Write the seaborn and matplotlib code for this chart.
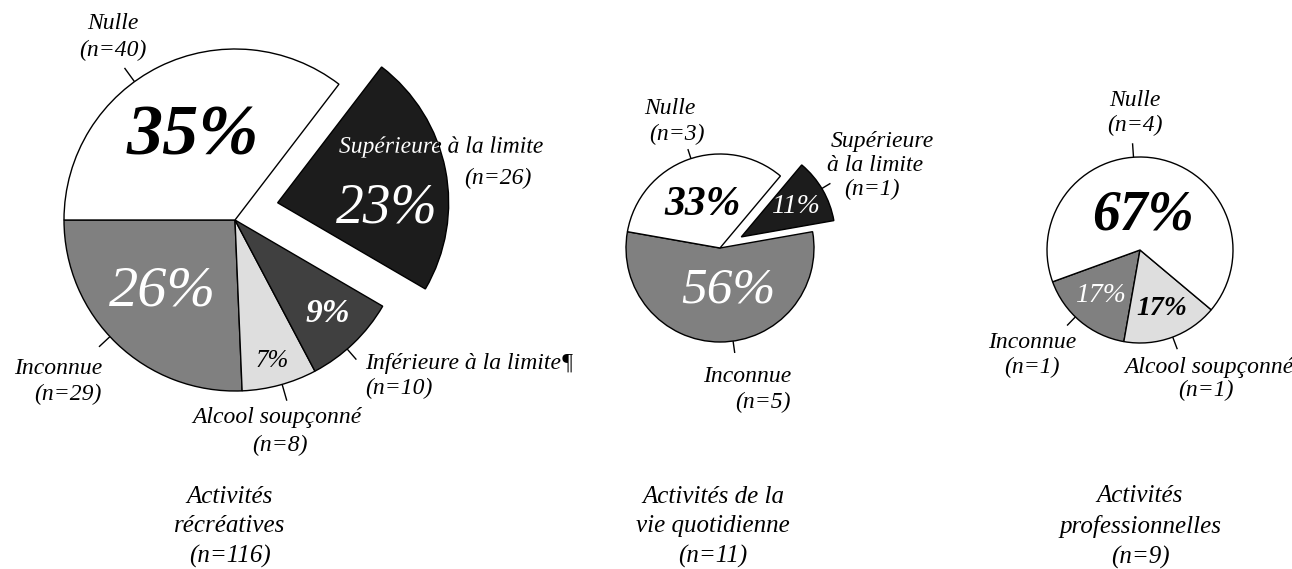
import math
import matplotlib
matplotlib.use("Agg")
import matplotlib.pyplot as plt
import matplotlib.transforms as mtransforms
from matplotlib.textpath import TextPath
from matplotlib.patches import PathPatch
from matplotlib.font_manager import FontProperties
import seaborn as sns

W, H = 1292, 569

# ---------------- data ----------------
p1_labels = ["Inconnue", "Alcool soupçonné", "Inférieure à la limite¶", "Supérieure à la limite", "Nulle"]
p1_counts = [29, 8, 10, 26, 40]
p1_pcts = [26, 7, 9, 23, 35]

p2_labels = ["Inconnue", "Supérieure à la limite", "Nulle"]
p2_counts = [5, 1, 3]
p2_pcts = [56, 11, 33]

p3_labels = ["Inconnue", "Alcool soupçonné", "Nulle"]
p3_counts = [1, 1, 4]
p3_pcts = [17, 17, 67]

captions = ["Activités\nrécréatives\n(n=116)",
            "Activités de la\nvie quotidienne\n(n=11)",
            "Activités\nprofessionnelles\n(n=9)"]

# ---------------- style ----------------
sns.set_theme(style="white")
plt.rcParams["font.family"] = ["Liberation Serif", "DejaVu Serif"]
plt.rcParams["font.style"] = "italic"
plt.rcParams["text.color"] = "black"

colors = {
    "Inconnue": "#808080",
    "Alcool soupçonné": "#dedede",
    "Inférieure à la limite¶": "#404040",
    "Supérieure à la limite": "#1c1c1c",
    "Nulle": "#ffffff",
}

fig = plt.figure(figsize=(W / 100, H / 100), dpi=100)
ax = fig.add_axes([0, 0, 1, 1])


def Y(y):
    return H - y


def draw_pie(counts, labels, cx, cy, r, start, explode_idx=None, explode_d=0.0, explode_dir=None):
    expl = [0.0] * len(counts)
    if explode_idx is not None:
        expl[explode_idx] = explode_d
    wedges, _ = ax.pie(counts, colors=[colors[l] for l in labels], startangle=start,
                       counterclock=True, center=(cx, Y(cy)), radius=r, explode=expl,
                       frame=True, wedgeprops=dict(edgecolor="black", linewidth=1.0))
    if explode_idx is not None and explode_dir is not None:
        a = math.radians(explode_dir)
        wedges[explode_idx].set_center((cx + explode_d * math.cos(a), Y(cy) + explode_d * math.sin(a)))
    return wedges


def leader(cx, cy, ang, r0, r1):
    a = math.radians(ang)
    ax.plot([cx + r0 * math.cos(a), cx + r1 * math.cos(a)],
            [Y(cy) + r0 * math.sin(a), Y(cy) + r1 * math.sin(a)],
            color="black", lw=1.0, solid_capstyle="butt")


def txt(s, x, y, size, color="black", ha="center", weight="normal", **kw):
    return ax.text(x, Y(y), s, fontsize=size, color=color, ha=ha, va="center",
                   fontweight=weight, fontstyle="italic", **kw)


LS = 17  # label size

# ---------------- pie 1 ----------------
c1x, c1y, r1 = 235, 220, 171
w1 = draw_pie(p1_counts, p1_labels, c1x, c1y, r1, 180, explode_idx=3, explode_d=46, explode_dir=22)
pct_pos1 = [(163, 291, 42, "white", "normal"), (272, 361, 18, "black", "normal"),
            (328, 313, 24, "white", "bold"), (387, 208, 40, "white", "normal"),
            (193, 137, 52, "black", "bold")]
for p, (x, y, s, col, wt) in zip(p1_pcts, pct_pos1):
    txt(f"{p}%", x, y, s, col, weight=wt)

leader(c1x, c1y, 126, r1, r1 + 17)
leader(c1x, c1y, 223, r1, r1 + 15)
leader(c1x, c1y, 286, r1, r1 + 17)
leader(c1x, c1y, 311, r1, r1 + 14)

# labels
txt(p1_labels[4], 113, 23, LS)
txt(f"(n={p1_counts[4]})", 113, 50, LS)
txt(p1_labels[0], 58, 368, LS)
txt(f"(n={p1_counts[0]})", 68, 394, LS)
txt(p1_labels[1], 277, 418, LS)
txt(f"(n={p1_counts[1]})", 280, 445, LS)
txt(p1_labels[2], 365, 364, LS, ha="left")
txt(f"(n={p1_counts[2]})", 365, 388, LS, ha="left")

# label that straddles the dark wedge: black outside, white inside
fp = FontProperties(family=["Liberation Serif"], style="italic", size=LS)
tp = TextPath((0, 0), p1_labels[3], prop=fp)
ext = tp.get_extents()
tr = (mtransforms.Affine2D()
      .translate(-(ext.x0 + ext.x1) / 2, -(ext.y0 + ext.y1) / 2)
      .scale(100 / 72)
      .translate(441, Y(147)) + ax.transData)
ax.add_patch(PathPatch(tp, transform=tr, facecolor="black", edgecolor="none", zorder=5))
pw = PathPatch(tp, transform=tr, facecolor="white", edgecolor="none", zorder=6)
ax.add_patch(pw)
pw.set_clip_path(w1[3])
txt(f"(n={p1_counts[3]})", 498, 178, LS)

# ---------------- pie 2 ----------------
c2x, c2y, r2 = 720, 248, 94
w2 = draw_pie(p2_counts, p2_labels, c2x, c2y, r2, 170, explode_idx=1, explode_d=24, explode_dir=27.5)
pct_pos2 = [(728, 290, 37, "white", "normal"), (795, 206, 20, "white", "normal"),
            (703, 205, 30, "black", "bold")]
for p, (x, y, s, col, wt) in zip(p2_pcts, pct_pos2):
    txt(f"{p}%", x, y, s, col, weight=wt)

leader(c2x, c2y, 108, r2, r2 + 10)
leader(c2x, c2y, 278, r2, r2 + 12)
ex = c2x + 24 * math.cos(math.radians(27.5))
ey = c2y - 24 * math.sin(math.radians(27.5))
leader(ex, ey, 31, r2, r2 + 10)

txt(p2_labels[2], 670, 108, LS)
txt(f"(n={p2_counts[2]})", 677, 134, LS)
txt(p2_labels[0], 747, 377, LS)
txt(f"(n={p2_counts[0]})", 763, 402, LS)
sup_a, sup_b = p2_labels[1].split(" ", 1)
txt(sup_a, 882, 141, LS)
txt(sup_b, 875, 165, LS)
txt(f"(n={p2_counts[1]})", 872, 189, LS)

# ---------------- pie 3 ----------------
c3x, c3y, r3 = 1140, 250, 93
draw_pie(p3_counts, p3_labels, c3x, c3y, r3, 200)
pct_pos3 = [(1100, 295, 20, "white", "normal"), (1162, 308, 20, "black", "bold"),
            (1143, 215, 40, "black", "bold")]
for p, (x, y, s, col, wt) in zip(p3_pcts, pct_pos3):
    txt(f"{p}%", x, y, s, col, weight=wt)

leader(c3x, c3y, 94, r3, r3 + 14)
leader(c3x, c3y, 226, r3, r3 + 12)
leader(c3x, c3y, 290.6, r3, r3 + 13)

txt(p3_labels[2], 1135, 100, LS)
txt(f"(n={p3_counts[2]})", 1135, 125, LS)
txt(p3_labels[0], 1032, 342, LS)
txt(f"(n={p3_counts[0]})", 1032, 367, LS)
txt(p3_labels[1], 1209, 367, LS)
txt(f"(n={p3_counts[1]})", 1206, 390, LS)

# ---------------- captions ----------------
for cap, x in zip(captions, [230, 713, 1140]):
    ax.text(x, Y(527), cap, fontsize=18, ha="center", va="center", color="black",
            fontstyle="italic", linespacing=1.45)

ax.set_xlim(0, W)
ax.set_ylim(0, H)
ax.set_aspect("equal")
ax.axis("off")
fig.savefig("out.png", dpi=100, facecolor="white")
